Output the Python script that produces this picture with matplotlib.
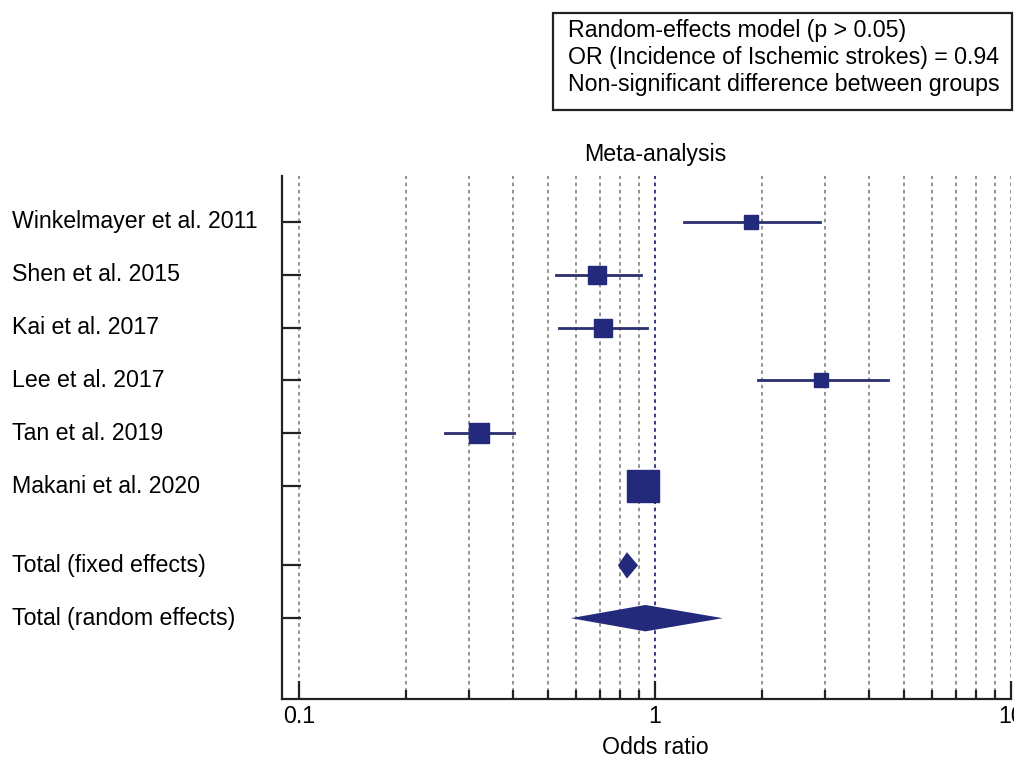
import numpy as np
import matplotlib.pyplot as plt
from matplotlib.transforms import blended_transform_factory

# study data (odds ratio, 95% CI, weight %)
studies = ["Winkelmayer et al. 2011", "Shen et al. 2015", "Kai et al. 2017",
           "Lee et al. 2017", "Tan et al. 2019", "Makani et al. 2020"]
odds = [1.86, 0.687, 0.714, 2.93, 0.32, 0.925]
ci_lo = [1.21, 0.527, 0.537, 1.95, 0.257, 0.90]
ci_hi = [2.90, 0.913, 0.95, 4.51, 0.402, 0.95]
weights = [8.0, 12.6, 13.3, 9.2, 14.8, 42.0]

totals = ["Total (fixed effects)", "Total (random effects)"]
tot_or = [0.834, 0.94]
tot_lo = [0.787, 0.58]
tot_hi = [0.896, 1.55]

box_lines = ["Random-effects model (p > 0.05)",
             "OR (Incidence of Ischemic strokes) = 0.94",
             "Non-significant difference between groups"]

plt.rcParams['font.family'] = ['Liberation Sans', 'DejaVu Sans']
navy = '#232a7c'
fs = 16.7

fig = plt.figure(figsize=(10.14, 7.6), dpi=100)
ax = fig.add_axes([282/1014, 1-699/760, 729/1014, 523/760])

ys = [1, 2, 3, 4, 5, 6]
ys_tot = [7.5, 8.5]

ax.set_xscale('log')
ax.set_xlim(0.0896, 10)
ax.set_ylim(10.03, 0.13)

# grid lines
grid_x = [k * 10.0**e for e in (-1, 0) for k in range(1, 10)] + [10]
for gx in grid_x:
    if gx == 1:
        ax.axvline(gx, color=navy, lw=1.3, ls=(0, (2, 2)), zorder=1)
    else:
        ax.axvline(gx, color='#8a8a8a', lw=1.3, ls=(0, (2, 2)), zorder=1)

for i in range(len(studies)):
    ax.plot([ci_lo[i], ci_hi[i]], [ys[i], ys[i]], color='#2a2f6e', lw=2.0, zorder=3)
    ax.plot(odds[i], ys[i], marker='s', color=navy, ms=3.56*np.sqrt(weights[i]),
            mec=navy, zorder=4)

for i in range(len(totals)):
    h = 0.25
    ax.fill([tot_lo[i], tot_or[i], tot_hi[i], tot_or[i]],
            [ys_tot[i], ys_tot[i]-h, ys_tot[i], ys_tot[i]+h],
            color=navy, zorder=4, lw=0)

for s in ['top', 'right']:
    ax.spines[s].set_visible(False)
for s in ['left', 'bottom']:
    ax.spines[s].set_linewidth(1.6)
    ax.spines[s].set_color('#222222')

ax.set_yticks(ys + ys_tot)
ax.set_yticklabels([])
ax.tick_params(axis='y', direction='in', length=13.5, width=1.6, color='#222222')
ax.set_xticks([0.1, 1, 10])
ax.set_xticklabels(['0.1', '1', '10'])
ax.set_xticks([k * 10.0**e for e in (-1, 0) for k in range(2, 10)], minor=True)
ax.tick_params(axis='x', which='major', direction='in', length=13, width=1.6,
               color='#222222', labelsize=fs, pad=4)
ax.tick_params(axis='x', which='minor', direction='in', length=6.5, width=1.6,
               color='#222222')

trans = blended_transform_factory(fig.transFigure, ax.transData)
for lab, y in zip(studies + totals, ys + ys_tot):
    ax.text(12/1014, y, lab, transform=trans, ha='left', va='center', fontsize=fs)

fig.text(655/1014, 1-154/760, "Meta-analysis", ha='center', va='center', fontsize=fs)
fig.text(655/1014, 1-748/760, "Odds ratio", ha='center', va='center', fontsize=fs)

# info box
fig.patches.append(plt.Rectangle((553/1014, 1-110/760), 459/1014, 97/760,
                                 transform=fig.transFigure, fill=False,
                                 ec='#222222', lw=1.6))
for j, line in enumerate(box_lines):
    fig.text(568/1014, 1-(30+27.5*j)/760, line, ha='left', va='center', fontsize=fs)

fig.savefig('out.png', dpi=100)
